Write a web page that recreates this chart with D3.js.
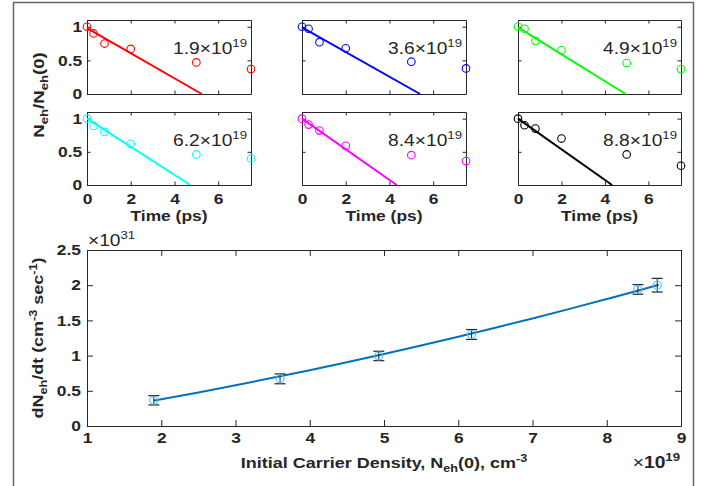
<!DOCTYPE html>
<html>
<head>
<meta charset="utf-8">
<script src="https://cdn.jsdelivr.net/npm/d3@7"></script>
<style>
  body { margin: 0; background: #fff; }
</style>
</head>
<body>
<div id="chart"></div>
<script>
var width = 711, height = 486;

// ---- decay panels (N_eh / N_eh(0) vs time) ----
var times = [0, 0.3, 0.8, 2, 5, 7.5];
var densities = ["1.9", "3.6", "4.9", "6.2", "8.4", "8.8"];
var colors = ["#ff0000", "#0000ff", "#00ff00", "#00ffff", "#ff00ff", "#000000"];
var decay19 = [1.0, 0.90, 0.75, 0.67, 0.47, 0.37];
var decay36 = [1.0, 0.97, 0.77, 0.68, 0.48, 0.38];
var decay49 = [1.0, 0.97, 0.79, 0.65, 0.46, 0.37];
var decay62 = [1.0, 0.89, 0.80, 0.62, 0.46, 0.40];
var decay84 = [1.0, 0.91, 0.82, 0.59, 0.45, 0.36];
var decay88 = [1.0, 0.90, 0.85, 0.70, 0.46, 0.29];
var decays = [decay19, decay36, decay49, decay62, decay84, decay88];
// linear fits: value at t=0 and the time where they reach zero
var fitStart = [0.98, 0.99, 0.99, 1.0, 1.0, 1.0];
var fitZero = [5.25, 5.4, 4.95, 4.72, 4.33, 4.33];
var timeTicks = [0, 2, 4, 6];
var ratioTicks = [0, 0.5, 1];

// ---- rate vs initial density ----
var density = [1.9, 3.6, 4.93, 6.18, 8.42, 8.68];
var rate = [0.365, 0.67, 0.995, 1.30, 1.94, 2.0];
var rateErr = [0.066, 0.07, 0.067, 0.07, 0.068, 0.097];
var fitX = [1.9, 2.5, 3, 3.5, 4, 4.5, 5, 5.5, 6, 6.5, 7, 7.5, 8, 8.5, 8.7];
var fitY = [0.36, 0.477, 0.578, 0.684, 0.793, 0.906, 1.022, 1.143, 1.268, 1.396, 1.528, 1.664, 1.804, 1.947, 2.006];
var densityTicks = [1, 2, 3, 4, 5, 6, 7, 8, 9];
var rateTicks = [0, 0.5, 1, 1.5, 2, 2.5];

var font = "'Liberation Sans', Arial, Helvetica, sans-serif";
var ink = "#262626";
var wide = " scale(1.2,1)";

var svg = d3.select("#chart")
    .append("svg")
    .attr("width", width)
    .attr("height", height)
    .style("font-family", font);

svg.append("rect")
    .attr("x", 13.5).attr("y", 2.5)
    .attr("width", 680).attr("height", 540)
    .attr("fill", "none")
    .attr("stroke", "#666")
    .attr("stroke-width", 1.5);

// draws a MATLAB style box: ticks pointing in on all four sides
function box(g, x, y, xt, yt, showX, showY, tick, xPad, yPad) {
  var x0 = x.range()[0], x1 = x.range()[1], y0 = y.range()[0], y1 = y.range()[1];
  var axes = [
    [d3.axisBottom(x).tickValues(xt).tickFormat(showX ? d3.format("") : ""), "translate(0," + y0 + ")", xPad],
    [d3.axisTop(x).tickValues(xt).tickFormat(""), "translate(0," + y1 + ")", 0],
    [d3.axisLeft(y).tickValues(yt).tickFormat(showY ? d3.format("") : ""), "translate(" + x0 + ",0)", yPad],
    [d3.axisRight(y).tickValues(yt).tickFormat(""), "translate(" + x1 + ",0)", 0]
  ];
  axes.forEach(function(a) {
    var ax = g.append("g")
        .attr("transform", a[1])
        .call(a[0].tickSizeInner(-tick).tickSizeOuter(0).tickPadding(a[2]));
    ax.attr("font-family", font).attr("font-size", 14.5).attr("font-weight", "bold");
    ax.selectAll("line, path").attr("stroke", ink);
    ax.selectAll("text").attr("fill", ink).attr("transform", "scale(1.2,1)");
  });
}

var colX = [[87, 251], [302, 466], [518, 681]];
var rowY = [[20, 94], [112, 185]];

densities.forEach(function(dens, i) {
  var c = i % 3, r = Math.floor(i / 3);
  var x = d3.scaleLinear().domain([0, 7.5]).range(colX[c]);
  var y = d3.scaleLinear().domain([0, 1.1]).range([rowY[r][1], rowY[r][0]]);
  var g = svg.append("g");

  box(g, x, y, timeTicks, ratioTicks, r == 1, c == 0, 3.5, 9, 4);

  g.append("line")
      .attr("x1", x(0)).attr("y1", y(fitStart[i]))
      .attr("x2", x(fitZero[i])).attr("y2", y(0))
      .attr("stroke", colors[i])
      .attr("stroke-width", 2);

  g.selectAll("circle")
    .data(times)
    .enter().append("circle")
      .attr("cx", function(d) { return x(d); })
      .attr("cy", function(d, j) { return y(decays[i][j]); })
      .attr("r", 3.8)
      .attr("fill", "none")
      .attr("stroke", colors[i])
      .attr("stroke-width", 1.1);

  var t = g.append("text")
      .attr("transform", "translate(" + (x(7.5) - 4) + "," + y(0.59) + ")" + wide)
      .attr("text-anchor", "end")
      .attr("font-size", 16)
      .attr("fill", ink);
  t.append("tspan").text(dens + "\u00d710");
  t.append("tspan").attr("dy", -7).attr("font-size", 11).text("19");

  if (r == 1) {
    g.append("text")
        .attr("transform", "translate(" + d3.mean(colX[c]) + ",221)" + wide)
        .attr("text-anchor", "middle")
        .attr("font-size", 14.5)
        .attr("font-weight", "bold")
        .attr("fill", ink)
        .text("Time (ps)");
  }
});

// shared y label of the panels
var yl = svg.append("text")
    .attr("transform", "translate(44,95) rotate(-90)" + wide)
    .attr("text-anchor", "middle")
    .attr("font-size", 15.5)
    .attr("font-weight", "bold")
    .attr("fill", ink);
yl.append("tspan").text("N");
yl.append("tspan").attr("dy", 4).attr("font-size", 11).text("eh");
yl.append("tspan").attr("dy", -4).text("/N");
yl.append("tspan").attr("dy", 4).attr("font-size", 11).text("eh");
yl.append("tspan").attr("dy", -4).text("(0)");

// ---- bottom chart ----
var bx = d3.scaleLinear().domain([1, 9]).range([87, 681]);
var by = d3.scaleLinear().domain([0, 2.5]).range([426, 250]);
var b = svg.append("g");

box(b, bx, by, densityTicks, rateTicks, true, true, 6, 7, 5);

b.append("path")
    .datum(fitX)
    .attr("fill", "none")
    .attr("stroke", "#0072bd")
    .attr("stroke-width", 2)
    .attr("d", d3.line()
        .x(function(d) { return bx(d); })
        .y(function(d, i) { return by(fitY[i]); })
        .curve(d3.curveMonotoneX));

var pt = b.selectAll(".pt")
    .data(density)
    .enter().append("g")
      .attr("class", "pt");

pt.append("line")
    .attr("x1", function(d) { return bx(d); })
    .attr("x2", function(d) { return bx(d); })
    .attr("y1", function(d, i) { return by(rate[i] - rateErr[i]); })
    .attr("y2", function(d, i) { return by(rate[i] + rateErr[i]); })
    .attr("stroke", ink);
[-1, 1].forEach(function(s) {
  pt.append("line")
      .attr("x1", function(d) { return bx(d) - 5.5; })
      .attr("x2", function(d) { return bx(d) + 5.5; })
      .attr("y1", function(d, i) { return by(rate[i] + s * rateErr[i]); })
      .attr("y2", function(d, i) { return by(rate[i] + s * rateErr[i]); })
      .attr("stroke", ink)
      .attr("stroke-width", 1.2);
});
pt.append("circle")
    .attr("cx", function(d) { return bx(d); })
    .attr("cy", function(d, i) { return by(rate[i]); })
    .attr("r", 4)
    .attr("fill", "none")
    .attr("stroke", "#4dbeee")
    .attr("stroke-width", 1.1);

var e31 = b.append("text")
    .attr("transform", "translate(88,246)" + wide)
    .attr("font-size", 16)
    .attr("fill", ink);
e31.append("tspan").text("\u00d710");
e31.append("tspan").attr("dy", -7).attr("font-size", 11).text("31");

var e19 = b.append("text")
    .attr("transform", "translate(680,468)" + wide)
    .attr("text-anchor", "end")
    .attr("font-size", 16)
    .attr("fill", ink);
e19.append("tspan").text("\u00d7");
e19.append("tspan").attr("font-weight", "bold").text("10");
e19.append("tspan").attr("dy", -7).attr("font-size", 11).attr("font-weight", "bold").text("19");

var xl = b.append("text")
    .attr("transform", "translate(384,468)" + wide)
    .attr("text-anchor", "middle")
    .attr("font-size", 15)
    .attr("font-weight", "bold")
    .attr("fill", ink);
xl.append("tspan").text("Initial Carrier Density, N");
xl.append("tspan").attr("dy", 4).attr("font-size", 10.5).text("eh");
xl.append("tspan").attr("dy", -4).text("(0), cm");
xl.append("tspan").attr("dy", -6).attr("font-size", 10.5).text("-3");

var byl = b.append("text")
    .attr("transform", "translate(43,338) rotate(-90)" + wide)
    .attr("text-anchor", "middle")
    .attr("font-size", 15)
    .attr("font-weight", "bold")
    .attr("fill", ink);
byl.append("tspan").text("dN");
byl.append("tspan").attr("dy", 4).attr("font-size", 10.5).text("eh");
byl.append("tspan").attr("dy", -4).text("/dt (cm");
byl.append("tspan").attr("dy", -6).attr("font-size", 10.5).text("-3");
byl.append("tspan").attr("dy", 6).text(" sec");
byl.append("tspan").attr("dy", -6).attr("font-size", 10.5).text("-1");
byl.append("tspan").attr("dy", 6).text(")");
</script>
</body>
</html>
